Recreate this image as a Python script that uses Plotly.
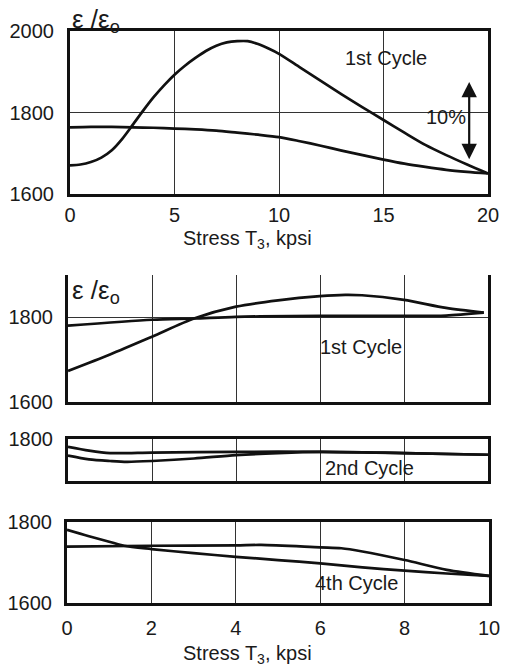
import plotly.graph_objects as go

# ---------------- data ----------------
# Panel 1: 1st cycle, 0-20 kpsi
p1_x_up = [0, 0.5, 1, 1.5, 2, 2.5, 3, 3.5, 4, 4.5, 5, 5.5, 6, 6.5, 7, 7.5, 8, 8.5, 9, 9.5, 10,
           11, 12, 13, 14, 15, 16, 17, 18, 19, 20]
p1_y_up = [1671, 1673, 1679, 1690, 1708, 1736, 1770, 1805, 1838, 1867, 1893, 1915, 1934, 1951, 1964, 1972, 1975, 1975, 1968, 1957, 1944,
           1911, 1878, 1845, 1813, 1782, 1751, 1721, 1696, 1673, 1651]
p1_x_lo = [0, 1, 2, 3, 4, 5, 6, 7, 8, 9, 10, 11, 12, 13, 14, 15, 16, 17, 18, 19, 20]
p1_y_lo = [1764, 1765, 1765, 1764, 1763, 1761, 1759, 1756, 1751, 1746, 1740, 1730, 1719, 1707, 1696, 1685, 1675, 1667, 1660, 1655, 1651]

# Panel 2: 1st cycle, 0-10 kpsi
p2_x_a = [0, 1, 2, 3, 4, 5, 6, 6.6, 7, 8, 9, 9.9]
p2_y_a = [1673, 1712, 1754, 1797, 1825, 1840, 1850, 1853, 1852, 1841, 1822, 1811]
p2_x_b = [0, 2, 3, 4, 6, 8, 9, 9.9]
p2_y_b = [1780, 1794, 1797, 1801, 1803, 1803, 1804, 1811]

# Panel 3: 2nd cycle
p3_x_a = [0, 0.5, 1, 2, 4, 6, 8, 10]
p3_y_a = [1782, 1773, 1767, 1768, 1770, 1770, 1767, 1763]
p3_x_b = [0, 0.5, 1, 1.4, 2, 3, 4, 5, 6, 8, 10]
p3_y_b = [1761, 1752, 1748, 1746, 1748, 1754, 1762, 1767, 1770, 1767, 1763]

# Panel 4: 4th cycle
p4_x_a = [0, 0.5, 1, 1.35, 2, 3, 4, 5, 6, 7, 8, 9, 10]
p4_y_a = [1780, 1765, 1751, 1741, 1733, 1723, 1714, 1706, 1698, 1688, 1680, 1673, 1667]
p4_x_b = [0, 2, 4, 4.6, 6, 6.5, 7, 8, 9, 10]
p4_y_b = [1739, 1741, 1742, 1743, 1737, 1735, 1727, 1706, 1682, 1667]

x_ticks_top = [0, 5, 10, 15, 20]
x_ticks_bot = [0, 2, 4, 6, 8, 10]
y_ticks_1 = [1600, 1800, 2000]
y_ticks_2 = [1600, 1800]
y_ticks_3 = [1800]
y_ticks_4 = [1600, 1800]

# ---------------- figure ----------------
W, H = 506, 667
FONT = "Liberation Sans, Arial, sans-serif"
TXT = "#1a1a1a"
FS = 20

def px_x(v):
    return v / W

def px_y(v):
    return 1 - v / H

fig = go.Figure()
line = dict(color="#111", width=2.7, shape="spline", smoothing=0.8)

fig.add_trace(go.Scatter(x=p1_x_up, y=p1_y_up, mode="lines", line=line, xaxis="x", yaxis="y"))
fig.add_trace(go.Scatter(x=p1_x_lo, y=p1_y_lo, mode="lines", line=line, xaxis="x", yaxis="y"))
fig.add_trace(go.Scatter(x=p2_x_a, y=p2_y_a, mode="lines", line=line, xaxis="x2", yaxis="y2"))
fig.add_trace(go.Scatter(x=p2_x_b, y=p2_y_b, mode="lines", line=line, xaxis="x2", yaxis="y2"))
fig.add_trace(go.Scatter(x=p3_x_a, y=p3_y_a, mode="lines", line=line, xaxis="x3", yaxis="y3"))
fig.add_trace(go.Scatter(x=p3_x_b, y=p3_y_b, mode="lines", line=line, xaxis="x3", yaxis="y3"))
fig.add_trace(go.Scatter(x=p4_x_a, y=p4_y_a, mode="lines", line=line, xaxis="x4", yaxis="y4"))
fig.add_trace(go.Scatter(x=p4_x_b, y=p4_y_b, mode="lines", line=line, xaxis="x4", yaxis="y4"))

grid = dict(showgrid=True, gridcolor="#333", gridwidth=1.2, zeroline=False, ticks="",
            automargin=False, tickfont=dict(family=FONT, size=FS, color=TXT))
border = dict(showline=True, linecolor="#111", linewidth=3)

layout = dict(
    template="none",
    width=W, height=H, margin=dict(l=0, r=0, t=0, b=0, autoexpand=False),
    paper_bgcolor="white", plot_bgcolor="white", showlegend=False,
    xaxis=dict(domain=[px_x(70), px_x(488)], range=[0, 20], tickvals=x_ticks_top,
               anchor="y", mirror=True, ticklabelstandoff=1, **grid, **border),
    yaxis=dict(domain=[px_y(194.3), px_y(31)], range=[1600, 2000], tickvals=y_ticks_1,
               anchor="x", mirror=True, ticklabelstandoff=9, **grid, **border),
    xaxis2=dict(domain=[px_x(68), px_x(488)], range=[0, 10], tickvals=x_ticks_bot,
                showticklabels=False, anchor="y2", mirror=False, **grid, **border),
    yaxis2=dict(domain=[px_y(401.7), px_y(275)], range=[1600, 1900], tickvals=y_ticks_2,
                anchor="x2", mirror=True, ticklabelstandoff=8, **grid, **border),
    xaxis3=dict(domain=[px_x(68), px_x(488)], range=[0, 10], tickvals=x_ticks_bot,
                showticklabels=False, anchor="y3", mirror=True, **grid, **border),
    yaxis3=dict(domain=[px_y(481), px_y(439.3)], range=[1700, 1800], tickvals=y_ticks_3,
                anchor="x3", mirror=True, ticklabelstandoff=8, **grid, **border),
    xaxis4=dict(domain=[px_x(67), px_x(489)], range=[0, 10], tickvals=x_ticks_bot,
                anchor="y4", mirror=True, ticklabelstandoff=5, **grid, **border),
    yaxis4=dict(domain=[px_y(603.3), px_y(521.7)], range=[1600, 1800], tickvals=y_ticks_4,
                anchor="x4", mirror=True, ticklabelstandoff=8, **grid, **border),
)
fig.update_layout(**layout)

ylab = "ε /ε<sub>o</sub>"
xlab = "Stress T<sub>3</sub>, kpsi"
tf = dict(family=FONT, size=FS, color=TXT)
ann = [
    dict(text=ylab, x=px_x(70), y=px_y(21), xref="paper", yref="paper", xanchor="left",
         yanchor="middle", showarrow=False, font=dict(family=FONT, size=26, color=TXT)),
    dict(text=ylab, x=px_x(70), y=px_y(291), xref="paper", yref="paper", xanchor="left",
         yanchor="middle", showarrow=False, font=dict(family=FONT, size=26, color=TXT)),
    dict(text=xlab, x=px_x(247), y=px_y(239), xref="paper", yref="paper", xanchor="center",
         yanchor="middle", showarrow=False, font=tf),
    dict(text=xlab, x=px_x(247), y=px_y(654), xref="paper", yref="paper", xanchor="center",
         yanchor="middle", showarrow=False, font=tf),
    dict(text="1st Cycle", x=15.1, y=1935, xref="x", yref="y", showarrow=False, font=tf),
    dict(text="10%", x=18.0, y=1790, xref="x", yref="y", showarrow=False, font=tf),
    dict(x=19.1, y=1686, ax=19.1, ay=1879, xref="x", yref="y", axref="x", ayref="y",
         showarrow=True, arrowhead=2, startarrowhead=2, arrowside="end+start",
         arrowsize=1.4, arrowwidth=2.2, arrowcolor="#111", text=""),
    dict(text="1st Cycle", x=6.97, y=1730, xref="x2", yref="y2", showarrow=False, font=tf),
    dict(text="2nd Cycle", x=7.19, y=1730, xref="x3", yref="y3", showarrow=False, font=tf),
    dict(text="4th Cycle", x=6.87, y=1650, xref="x4", yref="y4", showarrow=False, font=tf),
]
fig.update_layout(annotations=ann)

fig.write_html("out.html")
